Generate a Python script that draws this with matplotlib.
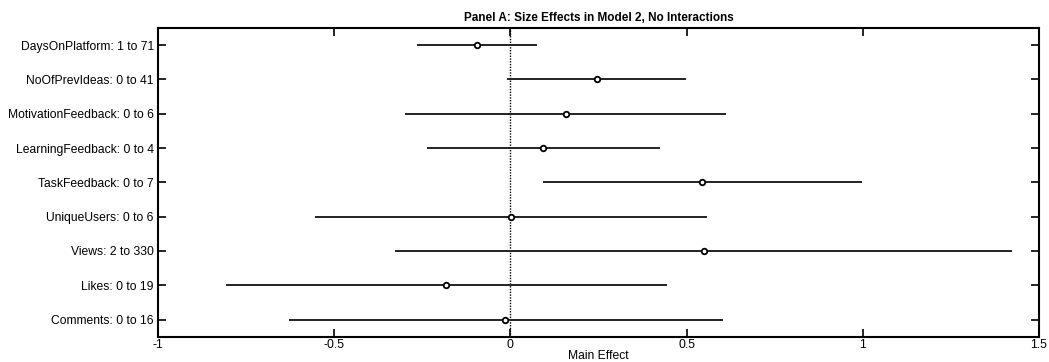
import matplotlib
matplotlib.use("Agg")
import matplotlib.pyplot as plt

labels = ["DaysOnPlatform: 1 to 71", "NoOfPrevIdeas: 0 to 41", "MotivationFeedback: 0 to 6",
          "LearningFeedback: 0 to 4", "TaskFeedback: 0 to 7", "UniqueUsers: 0 to 6",
          "Views: 2 to 330", "Likes: 0 to 19", "Comments: 0 to 16"]
effect = [-0.095, 0.245, 0.158, 0.093, 0.544, 0.002, 0.548, -0.183, -0.014]
lower = [-0.266, -0.010, -0.299, -0.236, 0.093, -0.554, -0.327, -0.806, -0.629]
upper = [0.076, 0.499, 0.611, 0.424, 0.997, 0.557, 1.423, 0.443, 0.603]
xticks = [-1, -0.5, 0, 0.5, 1, 1.5]
xticklabels = ["-1", "-0.5", "0", "0.5", "1", "1.5"]

plt.rcParams['font.family'] = ['Liberation Sans', 'DejaVu Sans']

fig = plt.figure(figsize=(10.49, 3.62), dpi=100)
ax = fig.add_axes([158/1049, 1-336.7/362, (1039-158)/1049, (336.7-28)/362])

ypos = list(range(1, len(labels) + 1))
ax.axvline(0, color='black', linestyle=(0, (1, 1)), linewidth=1.0, zorder=1)
ax.hlines(ypos, lower, upper, color='#222222', linewidth=1.4, zorder=2)
ax.plot(effect, ypos, linestyle='none', marker='o', markersize=4, markerfacecolor='white',
        markeredgecolor='black', markeredgewidth=1.3, zorder=3)

ax.set_xlim(-1, 1.5)
ax.set_ylim(len(labels) + 0.5, 0.5)
ax.set_yticks(ypos)
ax.set_yticklabels(labels, fontsize=8.7)
ax.set_xticks(xticks)
ax.set_xticklabels(xticklabels, fontsize=8.7)
ax.tick_params(direction='in', length=6, width=1.2, top=True, right=True, pad=3)
ax.tick_params(axis='x', pad=2)
for s in ax.spines.values():
    s.set_linewidth(1.5)
ax.set_xlabel("Main Effect", fontsize=8.7, labelpad=-1)
ax.set_title("Panel A: Size Effects in Model 2, No Interactions", fontsize=8.5,
             fontweight='bold', pad=5)

fig.savefig("out.png", dpi=100)
